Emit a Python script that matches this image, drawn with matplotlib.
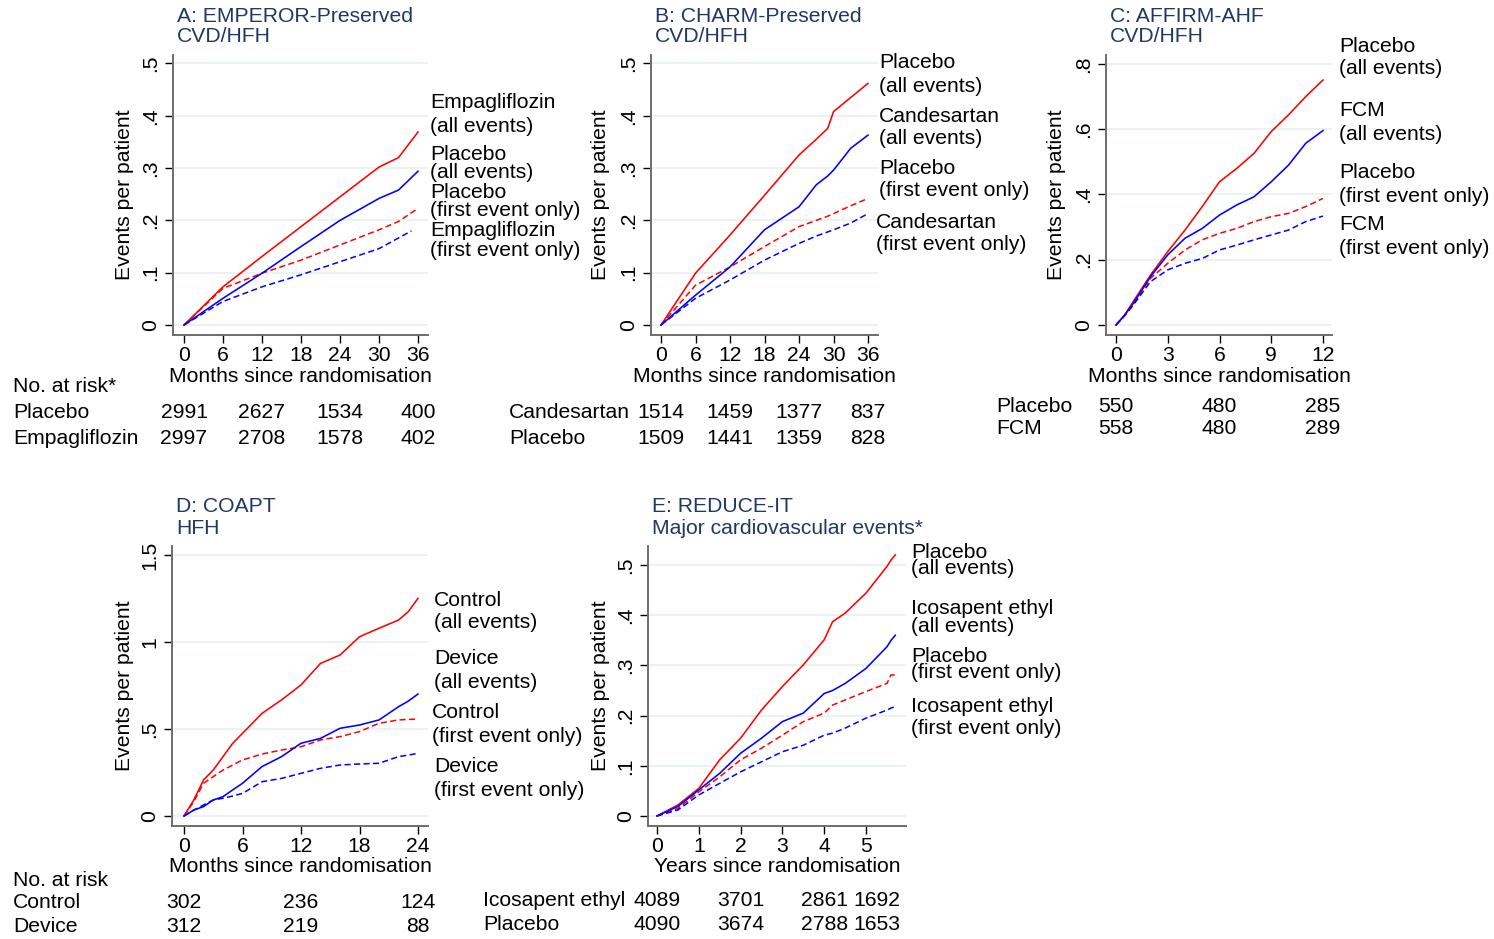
import matplotlib
matplotlib.use("Agg")
import matplotlib.pyplot as plt
from matplotlib.transforms import blended_transform_factory

plt.rcParams["font.family"] = ["Liberation Sans", "DejaVu Sans"]

W, H = 1494, 939
FS = 15.2
RED = "#ff0000"
BLUE = "#0000ff"
NAVY = "#1f3864"
SPINE = "#6e6e6e"
GRID = "#e8f0f2"

# ---- A: EMPEROR-Preserved (months) ----
a_t = [0, 6, 12, 18, 24, 30, 33, 36]
a_red = [0, 0.073, 0.131, 0.188, 0.245, 0.302, 0.320, 0.369]
a_blue = [0, 0.051, 0.099, 0.150, 0.200, 0.242, 0.258, 0.294]
a_red_first = [0, 0.070, 0.099, 0.124, 0.153, 0.182, 0.198, 0.223]
a_t_blue_first = [0, 6, 12, 18, 24, 30, 35]
a_blue_first = [0, 0.045, 0.073, 0.096, 0.121, 0.146, 0.180]

# ---- B: CHARM-Preserved (months) ----
b_t = [0, 6, 12, 18, 24, 27, 29, 30, 33, 36]
b_red = [0, 0.099, 0.172, 0.248, 0.325, 0.355, 0.376, 0.408, 0.435, 0.462]
b_blue = [0, 0.057, 0.111, 0.182, 0.226, 0.268, 0.285, 0.296, 0.338, 0.363]
b_red_first = [0, 0.076, 0.111, 0.150, 0.188, 0.200, 0.208, 0.213, 0.228, 0.242]
b_blue_first = [0, 0.051, 0.086, 0.124, 0.156, 0.170, 0.178, 0.182, 0.195, 0.213]

# ---- C: AFFIRM-AHF (months) ----
c_t = [0, 0.5, 1, 2, 3, 4, 5, 6, 7, 8, 9, 10, 11, 12]
c_red = [0, 0.03, 0.072, 0.153, 0.225, 0.291, 0.363, 0.439, 0.480, 0.526, 0.593, 0.644, 0.700, 0.751]
c_blue = [0, 0.03, 0.066, 0.148, 0.215, 0.266, 0.296, 0.337, 0.368, 0.393, 0.439, 0.490, 0.557, 0.596]
c_red_first = [0, 0.03, 0.066, 0.143, 0.189, 0.230, 0.261, 0.281, 0.296, 0.317, 0.332, 0.342, 0.363, 0.388]
c_blue_first = [0, 0.028, 0.061, 0.133, 0.169, 0.189, 0.204, 0.230, 0.245, 0.261, 0.276, 0.291, 0.317, 0.334]

# ---- D: COAPT (months) ----
d_t = [0, 1, 2, 3, 4, 5, 6, 8, 10, 12, 14, 16, 18, 20, 22, 23, 24]
d_red = [0, 0.092, 0.207, 0.264, 0.341, 0.418, 0.475, 0.590, 0.667, 0.753, 0.877, 0.925, 1.030, 1.079, 1.126, 1.174, 1.251]
d_blue = [0, 0.034, 0.054, 0.092, 0.111, 0.150, 0.188, 0.284, 0.341, 0.418, 0.446, 0.504, 0.523, 0.552, 0.628, 0.660, 0.701]
d_red_first = [0, 0.082, 0.188, 0.226, 0.264, 0.293, 0.322, 0.356, 0.379, 0.398, 0.437, 0.456, 0.485, 0.533, 0.552, 0.555, 0.557]
d_blue_first = [0, 0.034, 0.063, 0.092, 0.102, 0.115, 0.130, 0.197, 0.216, 0.245, 0.274, 0.293, 0.299, 0.303, 0.341, 0.350, 0.360]

# ---- E: REDUCE-IT (years) ----
e_t = [0, 0.5, 1, 1.5, 2, 2.5, 3, 3.5, 4, 4.2, 4.5, 5, 5.5, 5.6, 5.7]
e_red = [0, 0.022, 0.055, 0.112, 0.155, 0.211, 0.258, 0.301, 0.351, 0.387, 0.404, 0.444, 0.497, 0.510, 0.520]
e_blue = [0, 0.019, 0.052, 0.085, 0.125, 0.155, 0.188, 0.205, 0.244, 0.250, 0.264, 0.294, 0.337, 0.350, 0.360]
e_red_first = [0, 0.015, 0.048, 0.078, 0.112, 0.135, 0.161, 0.188, 0.205, 0.221, 0.231, 0.248, 0.264, 0.281, 0.281]
e_blue_first = [0, 0.012, 0.042, 0.065, 0.088, 0.108, 0.128, 0.141, 0.161, 0.165, 0.175, 0.195, 0.211, 0.215, 0.218]

# number at risk
a_risk_t = [0, 12, 24, 36]
a_risk_rows = ["Placebo", "Empagliflozin"]
a_risk = [[2991, 2627, 1534, 400], [2997, 2708, 1578, 402]]
b_risk_t = [0, 12, 24, 36]
b_risk_rows = ["Candesartan", "Placebo"]
b_risk = [[1514, 1459, 1377, 837], [1509, 1441, 1359, 828]]
c_risk_t = [0, 6, 12]
c_risk_rows = ["Placebo", "FCM"]
c_risk = [[550, 480, 285], [558, 480, 289]]
d_risk_t = [0, 12, 24]
d_risk_rows = ["Control", "Device"]
d_risk = [[302, 236, 124], [312, 219, 88]]
e_risk_t = [0, 2, 4, 5.25]
e_risk_rows = ["Icosapent ethyl", "Placebo"]
e_risk = [[4089, 3701, 2861, 1692], [4090, 3674, 2788, 1653]]

fig = plt.figure(figsize=(W / 100, H / 100), dpi=100)


def ftext(x, y, s, **kw):
    kw.setdefault("fontsize", FS)
    kw.setdefault("va", "center")
    fig.text(x / W, 1 - y / H, s, **kw)


def make_axes(box, xref, yref):
    l, t, r, b = box
    ax = fig.add_axes([l / W, 1 - b / H, (r - l) / W, (b - t) / H])
    (xv0, xp0), (xv1, xp1) = xref
    sx = (xv1 - xv0) / (xp1 - xp0)
    ax.set_xlim(xv0 + (l - xp0) * sx, xv0 + (r - xp0) * sx)
    (yv0, yp0), (yv1, yp1) = yref
    sy = (yv1 - yv0) / (yp0 - yp1)
    ax.set_ylim(yv0 - (b - yp0) * sy, yv0 + (yp0 - t) * sy)
    for s in ("top", "right"):
        ax.spines[s].set_visible(False)
    for s in ("left", "bottom"):
        ax.spines[s].set_color(SPINE)
        ax.spines[s].set_linewidth(1.4)
    ax.tick_params(colors="black", labelsize=FS, length=6, width=1.0, direction="out")
    ax.tick_params(axis="y", labelrotation=90, pad=3)
    ax.tick_params(axis="x", pad=2)
    return ax


def yfmt(v):
    s = ("%g" % v)
    if s.startswith("0."):
        s = s[1:]
    return s


def panel(box, xref, yref, xticks, yticks, series, title, xlabel, ylabel_x, labels, risk):
    ax = make_axes(box, xref, yref)
    ax.set_xticks(xticks)
    ax.set_yticks(yticks)
    ax.set_yticklabels([yfmt(v) for v in yticks], rotation=90, va="center")
    for v in yticks:
        ax.axhline(v, color=GRID, lw=1.2, zorder=0)
    for t, y, color, ls in series:
        if ls == "solid":
            ax.plot(t, y, color=color, lw=1.15, zorder=3)
        else:
            ax.plot(t, y, color=color, lw=1.1, dashes=(4, 2.2), zorder=2)
    l, t_, r, b = box
    ftext(l + 4, t_ - 39, title[0], color=NAVY)
    ftext(l + 4, t_ - 18, title[1], color=NAVY)
    ftext((l + r) / 2, b + 41, xlabel, ha="center")
    ftext(ylabel_x, (t_ + b) / 2, "Events per patient", rotation=90, ha="center")
    for x, y, s in labels:
        ftext(x, y, s, ha="left")
    rt, rows, vals, rx, ry, header = risk
    if header:
        ftext(rx, header[1], header[0], ha="left")
    tr = blended_transform_factory(ax.transData, fig.transFigure)
    for i, (name, row) in enumerate(zip(rows, vals)):
        ftext(rx, ry[i], name, ha="left")
        for tt, v in zip(rt, row):
            ax.text(tt, 1 - ry[i] / H, str(v), transform=tr, ha="center", va="center",
                    fontsize=FS, clip_on=False)
    return ax


panel((173, 55, 428, 335), ((0, 184), (36, 418)), ((0, 325), (0.5, 63.5)),
      [0, 6, 12, 18, 24, 30, 36], [0, 0.1, 0.2, 0.3, 0.4, 0.5],
      [(a_t, a_red, RED, "solid"), (a_t, a_blue, BLUE, "solid"),
       (a_t, a_red_first, RED, "dash"), (a_t_blue_first, a_blue_first, BLUE, "dash")],
      ("A: EMPEROR-Preserved", "CVD/HFH"), "Months since randomisation", 125,
      [(430, 102, "Empagliflozin"), (430, 126, "(all events)"),
       (430, 155, "Placebo"), (430, 173, "(all events)"),
       (430, 192, "Placebo"), (430, 210, "(first event only)"),
       (430, 230, "Empagliflozin"), (430, 250, "(first event only)")],
      (a_risk_t, a_risk_rows, a_risk, 13, [413, 439], ("No. at risk*", 386)))

panel((651, 55, 878, 335), ((0, 661), (36, 868)), ((0, 325), (0.5, 63.5)),
      [0, 6, 12, 18, 24, 30, 36], [0, 0.1, 0.2, 0.3, 0.4, 0.5],
      [(b_t, b_red, RED, "solid"), (b_t, b_blue, BLUE, "solid"),
       (b_t, b_red_first, RED, "dash"), (b_t, b_blue_first, BLUE, "dash")],
      ("B: CHARM-Preserved", "CVD/HFH"), "Months since randomisation", 601,
      [(879, 63, "Placebo"), (879, 87, "(all events)"),
       (879, 116, "Candesartan"), (879, 139, "(all events)"),
       (879, 168, "Placebo"), (879, 191, "(first event only)"),
       (876, 222, "Candesartan"), (876, 245, "(first event only)")],
      (b_risk_t, b_risk_rows, b_risk, 509, [413, 439], None))

panel((1106, 55, 1332, 335), ((0, 1116), (12, 1323)), ((0, 325), (0.8, 64)),
      [0, 3, 6, 9, 12], [0, 0.2, 0.4, 0.6, 0.8],
      [(c_t, c_red, RED, "solid"), (c_t, c_blue, BLUE, "solid"),
       (c_t, c_red_first, RED, "dash"), (c_t, c_blue_first, BLUE, "dash")],
      ("C: AFFIRM-AHF", "CVD/HFH"), "Months since randomisation", 1056,
      [(1339, 46, "Placebo"), (1339, 69, "(all events)"),
       (1339, 111, "FCM"), (1339, 134, "(all events)"),
       (1339, 173, "Placebo"), (1339, 196, "(first event only)"),
       (1339, 224, "FCM"), (1339, 248, "(first event only)")],
      (c_risk_t, c_risk_rows, c_risk, 996, [406, 428], None))

panel((172, 546, 428, 826), ((0, 184), (24, 418)), ((0, 816), (1.5, 555)),
      [0, 6, 12, 18, 24], [0, 0.5, 1, 1.5],
      [(d_t, d_red, RED, "solid"), (d_t, d_blue, BLUE, "solid"),
       (d_t, d_red_first, RED, "dash"), (d_t, d_blue_first, BLUE, "dash")],
      ("D: COAPT", "HFH"), "Months since randomisation", 125,
      [(434, 600, "Control"), (434, 623, "(all events)"),
       (434, 659, "Device"), (434, 683, "(all events)"),
       (432, 712, "Control"), (432, 736, "(first event only)"),
       (434, 767, "Device"), (434, 791, "(first event only)")],
      (d_risk_t, d_risk_rows, d_risk, 13, [903, 927], ("No. at risk", 880)))

panel((648, 546, 906, 826), ((0, 657), (5, 866)), ((0, 816), (0.5, 565)),
      [0, 1, 2, 3, 4, 5], [0, 0.1, 0.2, 0.3, 0.4, 0.5],
      [(e_t, e_red, RED, "solid"), (e_t, e_blue, BLUE, "solid"),
       (e_t, e_red_first, RED, "dash"), (e_t, e_blue_first, BLUE, "dash")],
      ("E: REDUCE-IT", "Major cardiovascular events*"), "Years since randomisation", 601,
      [(911, 552, "Placebo"), (911, 569, "(all events)"),
       (911, 609, "Icosapent ethyl"), (911, 627, "(all events)"),
       (911, 657, "Placebo"), (911, 673, "(first event only)"),
       (911, 707, "Icosapent ethyl"), (911, 729, "(first event only)")],
      (e_risk_t, e_risk_rows, e_risk, 483, [900, 925], None))

fig.savefig("out.png", dpi=100, facecolor="white")
